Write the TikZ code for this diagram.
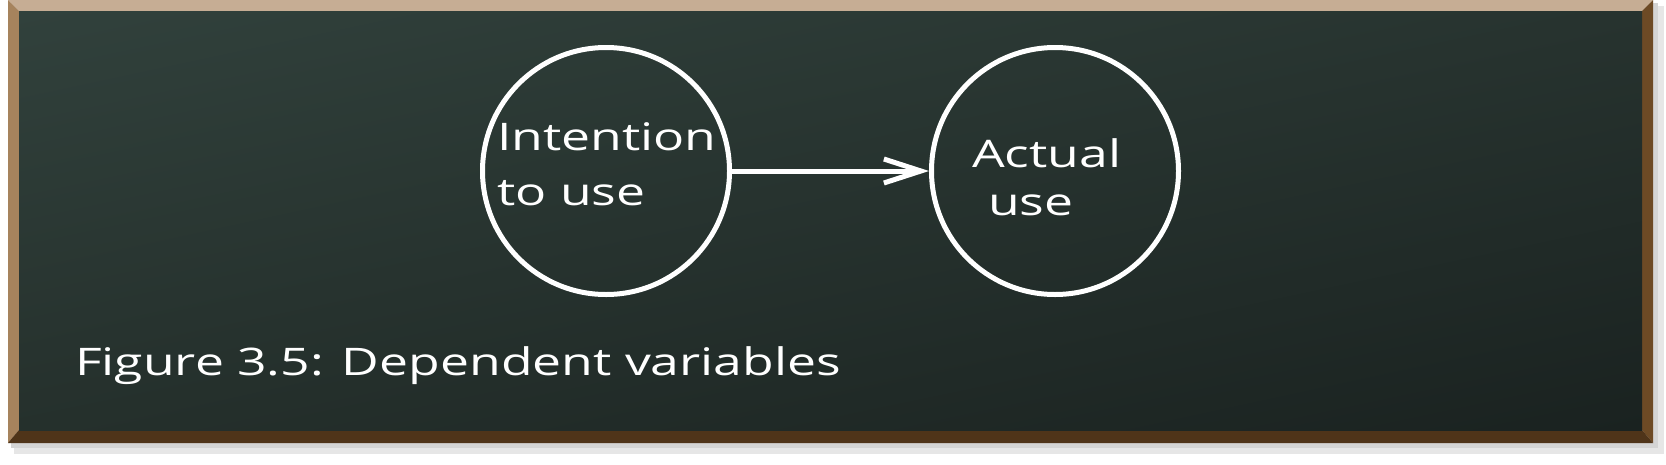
\documentclass[tikz,border=0pt]{standalone}
\usepackage{fontspec}
\newfontfamily\chalkfont[FakeStretch=1.36]{Open Sans}
\usetikzlibrary{arrows.meta,shadings}
\definecolor{frameTop}{HTML}{C6AD94}
\definecolor{frameLeft}{HTML}{A6835D}
\definecolor{frameRight}{HTML}{6D4A25}
\definecolor{frameBottom}{HTML}{4F3419}
\definecolor{boardUL}{HTML}{31413C}
\definecolor{boardUR}{HTML}{27332F}
\definecolor{boardLL}{HTML}{25302C}
\definecolor{boardLR}{HTML}{1A2220}
\definecolor{shadowA}{HTML}{E6E6E6}
\definecolor{shadowB}{HTML}{D4D4D4}
\tikzset{
  chalkcircle/.style={circle, draw=white, line width=5pt, minimum size=247pt, inner sep=0pt},
  chalktext/.style={text=white, font=\chalkfont\fontsize{38}{55}\selectfont, inner sep=0pt, align=left, anchor=base west},
  chalkarrow/.style={draw=white, line width=5pt, -{Straight Barb[length=37pt,width=24pt]}}
}
\begin{document}
\begin{tikzpicture}[x=1pt,y=-1pt]
\useasboundingbox (0,0) rectangle (1666,464);
\fill[white] (0,0) rectangle (1666,464);
% shadow
\fill[shadowA] (14,6) rectangle (1664,454);
\fill[shadowB] (11,3) rectangle (1658,448);
% frame
\fill[frameTop] (8,0) -- (1653,0) -- (1642,11) -- (19,11) -- cycle;
\fill[frameLeft] (8,0) -- (19,11) -- (19,430) -- (8,443) -- cycle;
\fill[frameRight] (1653,0) -- (1653,443) -- (1642,430) -- (1642,11) -- cycle;
\fill[frameBottom] (8,443) -- (19,430) -- (1642,430) -- (1653,443) -- cycle;
% board
\shade[upper left=boardUL, upper right=boardUR, lower left=boardLL, lower right=boardLR] (19,11) rectangle (1642,430);
% circles
\node[chalkcircle] (intent) at (606,171) {};
\node[chalkcircle] (actual) at (1055,171) {};
\draw[chalkarrow] (intent) -- (actual);
% texts (base anchor = baseline of last line)
\node[chalktext] (intenttext) at (497,205) {Intention\\to use};
\node[chalktext] (actualtext) at (972,215) {Actual\\[-7pt]\hspace*{16pt}use};
\node[chalktext] (caption) at (75,375) {Figure 3.5: Dependent variables};
\end{tikzpicture}
\end{document}
